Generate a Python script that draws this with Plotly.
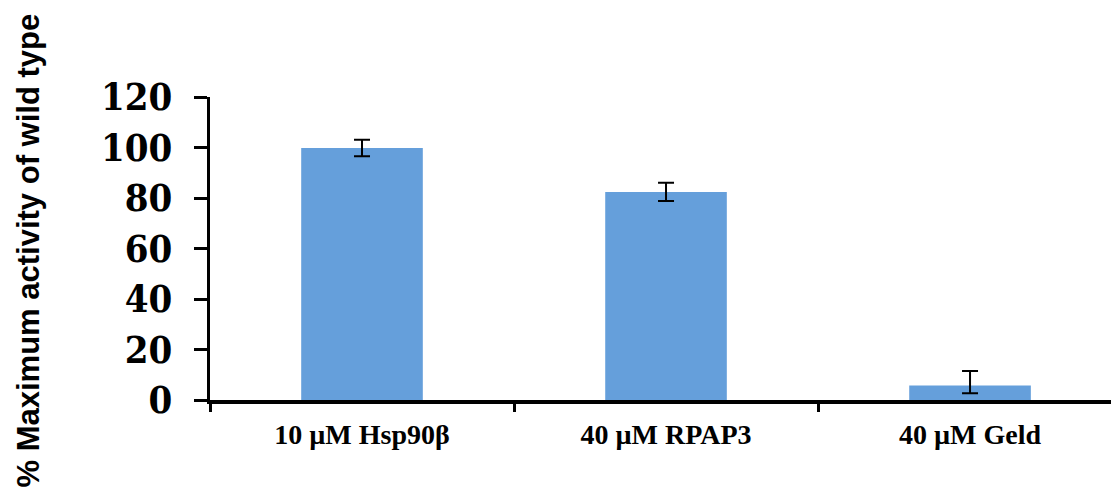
import plotly.graph_objects as go

categories = ["10 µM Hsp90β", "40 µM RPAP3", "40 µM Geld"]
values = [99.8, 82.4, 5.7]
err_plus = [3.3, 3.6, 5.8]
err_minus = [3.3, 3.6, 3.0]
y_ticks = [0, 20, 40, 60, 80, 100, 120]
y_title = "% Maximum activity of wild type"

fig = go.Figure()
fig.add_trace(go.Bar(
    x=categories, y=values,
    marker=dict(color="#659FDB", line=dict(width=0)),
    width=0.4,
    error_y=dict(type="data", symmetric=False, array=err_plus, arrayminus=err_minus,
                 color="black", thickness=2, width=8),
))

fig.update_layout(
    width=1111, height=486,
    margin=dict(l=202, r=0, t=89, b=94),
    plot_bgcolor="white", paper_bgcolor="white",
    showlegend=False,
    xaxis=dict(
        range=[-0.5, 2.49], showline=True, linecolor="black", linewidth=4,
        ticks="outside", tickson="boundaries", ticklen=8, tickwidth=3, tickcolor="black",
        tickfont=dict(family="Liberation Serif", size=28, color="black", weight="bold"),
        ticklabelstandoff=6, showgrid=False, zeroline=False,
    ),
    yaxis=dict(
        range=[0, 120], tickvals=y_ticks, showline=True, linecolor="black", linewidth=3,
        ticks="outside", ticklen=13, tickwidth=3, tickcolor="black",
        tickfont=dict(family="DejaVu Serif Condensed", size=38, color="black", weight="bold"),
        ticklabelstandoff=14, showgrid=False, zeroline=False,
    ),
    annotations=[dict(
        text=y_title, textangle=-90, xref="paper", yref="paper", x=0, y=0.5,
        xanchor="center", yanchor="middle", xshift=-182, yshift=-2, showarrow=False,
        font=dict(family="Liberation Sans", size=31, color="black", weight="bold"),
    )],
)

fig.write_html("out.html")
